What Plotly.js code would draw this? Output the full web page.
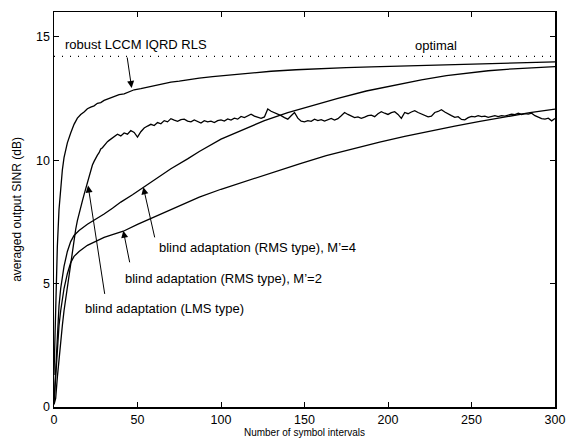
<!DOCTYPE html>
<html>
<head>
<meta charset="utf-8">
<script src="https://cdn.plot.ly/plotly-3.0.1.min.js"></script>
<style>html,body{margin:0;padding:0;background:#fff}#chart{width:567px;height:445px}</style>
</head>
<body>
<div id="chart"></div>
<script>
// robust LCCM IQRD RLS
const rlsX = [0,1,2,3,4,5,6,7,8,10,12,14,16,18,20,22,24,26,28,30,33,36,39,42,45,48,52,56,60,65,70,75,80,87,95,107,120,130,145,160,175,190,210,227,245,260,280,300];
const rlsY = [1.3,4.0,6.5,8.0,9.0,9.6,10.1,10.4,10.7,11.1,11.45,11.7,11.85,11.95,12.08,12.15,12.2,12.3,12.33,12.42,12.5,12.55,12.65,12.68,12.76,12.85,12.9,12.96,13.02,13.1,13.16,13.2,13.26,13.32,13.38,13.45,13.55,13.6,13.66,13.71,13.75,13.78,13.82,13.85,13.89,13.92,13.95,13.98];

// blind adaptation (RMS type), M'=4
const rms4X = [0,1,2,3,4,5,6,8,10,12,15,20,25,30,35,40,47,53.5,60,70,80,87,100,115,126,140,155,170,187,205,220,235,247,260,275,290,300];
const rms4Y = [0.15,1.6,3.0,4.1,4.8,5.3,5.7,6.3,6.7,6.95,7.15,7.4,7.6,7.82,8.05,8.3,8.6,8.9,9.2,9.65,10.05,10.35,10.85,11.3,11.6,11.92,12.22,12.5,12.8,13.05,13.25,13.42,13.53,13.62,13.7,13.76,13.79];

// blind adaptation (RMS type), M'=2
const rms2X = [0,1,2,3,4,5,6,8,10,12,15,20,25,30,35,41.5,50,60,70,80,87,100,115,130,147,163,180,195,210,225,240,255,270,285,300];
const rms2Y = [0.15,1.2,2.4,3.3,3.9,4.4,4.8,5.4,5.85,6.1,6.3,6.55,6.72,6.87,6.98,7.12,7.4,7.7,7.98,8.27,8.5,8.82,9.15,9.5,9.85,10.18,10.48,10.73,10.96,11.18,11.38,11.57,11.75,11.92,12.07];

// blind adaptation (LMS type)
const lmsX = [0,1,2,3,4,5,6,7,8,9,10,11,12,13,14,15,16,17,18,19,20,21,22,23,24,25,26,27,28,29,30,31,32,33,
  34,36,38,40,42,44,46,48,50,52,54,56,58,60,62,64,66,68,70,72,74,76,78,80,82,84,86,88,90,92,94,96,98,100,
  102,104,106,108,110,112,114,116,118,120,122,124,126,128,130,132,134,136,138,140,142,144,146,148,150,
  152,154,156,158,160,162,164,166,168,170,172,174,176,178,180,182,184,186,188,190,192,194,196,198,200,
  202,204,206,208,210,212,214,216,218,220,222,224,226,228,230,232,234,236,238,240,242,244,246,248,250,
  252,254,256,258,260,262,264,266,268,270,272,274,276,278,280,282,284,286,288,290,292,294,296,298,300];
const lmsY = [0.1,0.35,1.2,2.0,2.7,3.3,3.9,4.4,4.9,5.4,5.9,6.35,6.8,7.2,7.55,7.85,8.1,8.35,8.6,8.85,9.05,9.3,9.55,9.8,9.95,10.1,10.2,10.3,10.45,10.5,10.6,10.65,10.75,10.8,
  10.85,10.95,11.05,10.98,11.1,11.05,11.2,11.12,10.93,11.15,11.3,11.38,11.45,11.4,11.52,11.47,11.6,11.55,11.68,11.62,11.57,11.64,11.66,11.58,11.55,11.63,11.56,11.5,11.6,11.55,11.58,11.52,11.6,11.63,
  11.58,11.67,11.62,11.7,11.66,11.77,11.72,11.8,11.86,11.78,11.74,11.69,11.75,12.07,11.98,11.93,11.86,11.8,11.72,11.66,11.8,11.93,11.7,11.58,11.55,
  11.6,11.57,11.66,11.6,11.64,11.58,11.65,11.69,11.62,11.68,11.8,11.93,11.85,11.78,11.72,11.75,11.69,11.74,11.8,11.82,11.76,11.88,11.96,11.9,11.85,
  11.92,11.96,11.85,11.69,11.93,11.88,11.95,12.0,11.93,11.86,11.8,11.75,11.78,11.93,11.97,12.04,11.95,11.86,11.8,11.73,11.76,11.65,11.63,11.72,11.77,
  11.75,11.8,11.76,11.78,11.73,11.78,11.8,11.76,11.8,11.78,11.82,11.86,11.84,11.9,11.85,11.88,11.86,11.9,11.8,11.73,11.68,11.66,11.7,11.59,11.69];

// optimal level
const optimalX = [0, 300];
const optimalY = [14.2, 14.2];

const xTicks = [0,50,100,150,200,250,300];
const yTicks = [0,5,10,15];

const FONT = 'Liberation Sans, Arial, Helvetica, sans-serif';
const line = {color: '#000', width: 1.3};

const traces = [
  {x: optimalX, y: optimalY, mode: 'lines', line: {color: '#000', width: 1.2, dash: '1px,7px'}, hoverinfo: 'skip'},
  {x: rlsX, y: rlsY, mode: 'lines', line: line},
  {x: rms4X, y: rms4Y, mode: 'lines', line: line},
  {x: rms2X, y: rms2Y, mode: 'lines', line: line},
  {x: lmsX, y: lmsY, mode: 'lines', line: line}
];

function label(text, x, y) {
  return {text: text, x: x, y: y, xref: 'x', yref: 'y', showarrow: false,
          font: {family: FONT, size: 13, color: '#000'}, xanchor: 'left', yanchor: 'middle'};
}
function arrow(hx, hy, tx, ty) {
  return {text: '', x: hx, y: hy, ax: tx, ay: ty, xref: 'x', yref: 'y', axref: 'x', ayref: 'y',
          showarrow: true, arrowhead: 2, arrowsize: 1.4, arrowwidth: 1, arrowcolor: '#000',
          standoff: 0, startstandoff: 0};
}

const layout = {
  width: 567, height: 445,
  margin: {l: 54, r: 12, t: 12, b: 38},
  paper_bgcolor: '#fff', plot_bgcolor: '#fff',
  showlegend: false,
  font: {family: FONT, size: 12, color: '#000'},
  xaxis: {
    range: [0, 300], tickvals: xTicks, ticktext: xTicks.map(String),
    ticks: 'inside', ticklen: 5, tickwidth: 1, tickcolor: '#000',
    showline: true, linecolor: '#000', linewidth: 1.5, mirror: 'ticks',
    showgrid: false, zeroline: false,
    tickfont: {family: FONT, size: 12.5},
    title: {text: 'Number of symbol intervals', font: {family: FONT, size: 10}, standoff: 1}
  },
  yaxis: {
    range: [0, 16], tickvals: yTicks, ticktext: yTicks.map(String),
    ticks: 'inside', ticklen: 5, tickwidth: 1, tickcolor: '#000',
    showline: true, linecolor: '#000', linewidth: 1.5, mirror: 'ticks',
    showgrid: false, zeroline: false,
    tickfont: {family: FONT, size: 12.5},
    title: {text: 'averaged output SINR (dB)', font: {family: FONT, size: 12}, standoff: 12}
  },
  annotations: [
    label('robust LCCM IQRD RLS', 5.5, 14.67),
    label('optimal', 215, 14.63),
    label("blind adaptation (RMS type), M’=4", 61.5, 6.47),
    label("blind adaptation (RMS type), M’=2", 41.5, 5.22),
    label('blind adaptation (LMS type)', 17.5, 3.98),
    arrow(46.5, 12.92, 43.7, 14.22),
    arrow(53.5, 8.9, 60.5, 6.81),
    arrow(41.5, 7.14, 45.5, 5.8),
    arrow(20.4, 8.97, 30.5, 4.52)
  ]
};

Plotly.newPlot('chart', traces, layout, {staticPlot: true, displayModeBar: false});
</script>
</body>
</html>
